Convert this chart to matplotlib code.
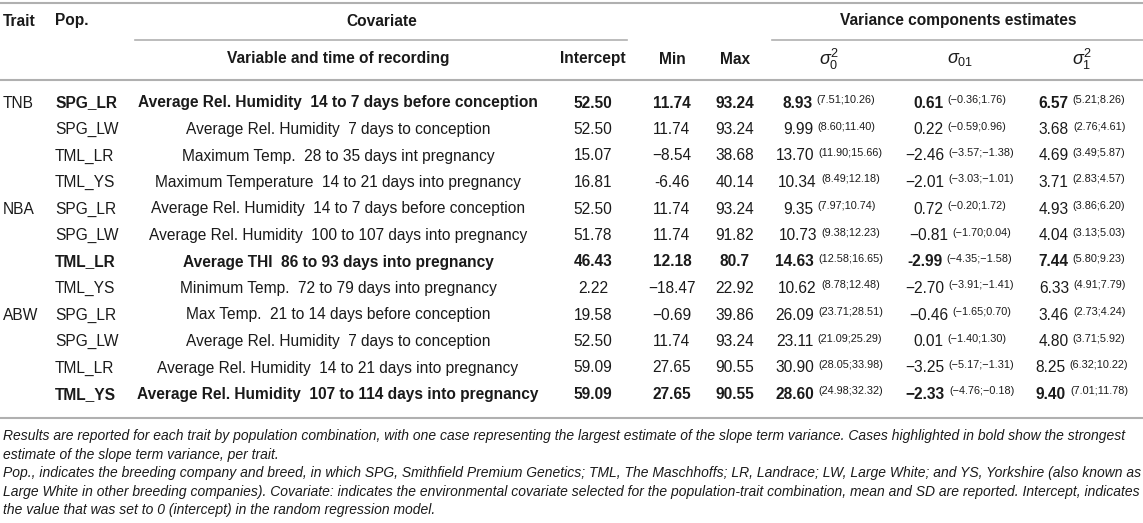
import matplotlib.pyplot as plt

plt.rcParams["font.family"] = ["Liberation Sans", "DejaVu Sans"]
plt.rcParams["mathtext.fontset"] = "custom"
plt.rcParams["mathtext.rm"] = "Liberation Sans"
plt.rcParams["mathtext.it"] = "Liberation Sans:italic"
plt.rcParams["mathtext.bf"] = "Liberation Sans:bold"

traits = ["TNB", "", "", "", "NBA", "", "", "", "ABW", "", "", ""]
pops = ["SPG_LR", "SPG_LW", "TML_LR", "TML_YS", "SPG_LR", "SPG_LW", "TML_LR", "TML_YS",
        "SPG_LR", "SPG_LW", "TML_LR", "TML_YS"]
covariates = [
    "Average Rel. Humidity  14 to 7 days before conception",
    "Average Rel. Humidity  7 days to conception",
    "Maximum Temp.  28 to 35 days int pregnancy",
    "Maximum Temperature  14 to 21 days into pregnancy",
    "Average Rel. Humidity  14 to 7 days before conception",
    "Average Rel. Humidity  100 to 107 days into pregnancy",
    "Average THI  86 to 93 days into pregnancy",
    "Minimum Temp.  72 to 79 days into pregnancy",
    "Max Temp.  21 to 14 days before conception",
    "Average Rel. Humidity  7 days to conception",
    "Average Rel. Humidity  14 to 21 days into pregnancy",
    "Average Rel. Humidity  107 to 114 days into pregnancy",
]
intercepts = ["52.50", "52.50", "15.07", "16.81", "52.50", "51.78", "46.43", "2.22",
              "19.58", "52.50", "59.09", "59.09"]
mins = ["11.74", "11.74", "\u22128.54", "-6.46", "11.74", "11.74", "12.18", "\u221218.47",
        "\u22120.69", "11.74", "27.65", "27.65"]
maxs = ["93.24", "93.24", "38.68", "40.14", "93.24", "91.82", "80.7", "22.92",
        "39.86", "93.24", "90.55", "90.55"]
sig0 = ["8.93", "9.99", "13.70", "10.34", "9.35", "10.73", "14.63", "10.62",
        "26.09", "23.11", "30.90", "28.60"]
sig0_ci = ["7.51;10.26", "8.60;11.40", "11.90;15.66", "8.49;12.18", "7.97;10.74", "9.38;12.23",
           "12.58;16.65", "8.78;12.48", "23.71;28.51", "21.09;25.29", "28.05;33.98", "24.98;32.32"]
sig01 = ["0.61", "0.22", "\u22122.46", "\u22122.01", "0.72", "\u22120.81", "-2.99", "\u22122.70",
         "\u22120.46", "0.01", "\u22123.25", "\u22122.33"]
sig01_ci = ["-0.36;1.76", "-0.59;0.96", "-3.57;-1.38", "-3.03;-1.01", "-0.20;1.72", "-1.70;0.04",
            "-4.35;-1.58", "-3.91;-1.41", "-1.65;0.70", "-1.40;1.30", "-5.17;-1.31", "-4.76;-0.18"]
sig1 = ["6.57", "3.68", "4.69", "3.71", "4.93", "4.04", "7.44", "6.33",
        "3.46", "4.80", "8.25", "9.40"]
sig1_ci = ["5.21;8.26", "2.76;4.61", "3.49;5.87", "2.83;4.57", "3.86;6.20", "3.13;5.03",
           "5.80;9.23", "4.91;7.79", "2.73;4.24", "3.71;5.92", "6.32;10.22", "7.01;11.78"]
bold_rows = [0, 6, 11]

notes = [
    "Results are reported for each trait by population combination, with one case representing the largest estimate of the slope term variance. Cases highlighted in bold show the strongest",
    "estimate of the slope term variance, per trait.",
    "Pop., indicates the breeding company and breed, in which SPG, Smithfield Premium Genetics; TML, The Maschhoffs; LR, Landrace; LW, Large White; and YS, Yorkshire (also known as",
    "Large White in other breeding companies). Covariate: indicates the environmental covariate selected for the population-trait combination, mean and SD are reported. Intercept, indicates",
    "the value that was set to 0 (intercept) in the random regression model.",
]

W, H = 1143, 523
fig = plt.figure(figsize=(W / 100, H / 100), dpi=100)
ax = fig.add_axes([0, 0, 1, 1])
ax.set_xlim(0, W)
ax.set_ylim(H, 0)
ax.axis("off")
renderer = fig.canvas.get_renderer()

fs = 11.2
fs_ci = 7.8
line_col = "#b0b0b0"
txt_col = "#1a1a1a"

# column positions
x_trait, x_pop, x_cov = 3, 55, 338
x_int, x_min, x_max = 593, 672, 735
x_s0, x_s01, x_s1 = 829, 960, 1082

# rules
ax.plot([0, W], [3, 3], color=line_col, lw=1.5)
ax.plot([135, 627], [40, 40], color=line_col, lw=1.2)
ax.plot([772, W], [40, 40], color=line_col, lw=1.2)
ax.plot([0, W], [80, 80], color=line_col, lw=1.5)
ax.plot([0, W], [418, 418], color=line_col, lw=1.5)

hk = dict(fontsize=fs, fontweight="bold", color=txt_col, va="baseline")
ax.text(x_trait, 25.5, "Trait", ha="left", **hk)
ax.text(x_pop, 25.5, "Pop.", ha="left", **hk)
ax.text(382, 25.5, "Covariate", ha="center", **hk)
ax.text(958, 25.5, "Variance components estimates", ha="center", **hk)
ax.text(x_cov, 63.5, "Variable and time of recording", ha="center", **hk)
ax.text(x_int, 63.5, "Intercept", ha="center", **hk)
ax.text(x_min, 63.5, "Min", ha="center", **hk)
ax.text(x_max, 63.5, "Max", ha="center", **hk)
sk = dict(fontsize=13, color=txt_col, va="center", ha="center")
ax.text(x_s0, 59, r"$\sigma_0^2$", **sk)
ax.text(x_s01, 59, r"$\sigma_{01}$", **sk)
ax.text(x_s1, 59, r"$\sigma_1^2$", **sk)


def value_ci(cx, yb, val, ci, weight):
    # value with a small raised interval, centred as one group
    t1 = ax.text(0, yb, val, ha="left", va="baseline", fontsize=fs, fontweight=weight, color=txt_col)
    t2 = ax.text(0, yb - 4.5, "(" + ci.replace("-", "\u2212") + ")", ha="left", va="baseline",
                 fontsize=fs_ci, color=txt_col)
    w1 = t1.get_window_extent(renderer).width
    w2 = t2.get_window_extent(renderer).width
    gap = 4
    x0 = cx - (w1 + gap + w2) / 2
    t1.set_x(x0)
    t2.set_x(x0 + w1 + gap)


y0, dy = 107.5, 26.5
for i in range(len(pops)):
    yb = y0 + i * dy
    w = "bold" if i in bold_rows else "normal"
    k = dict(fontsize=fs, fontweight=w, color=txt_col, va="baseline")
    ax.text(x_trait, yb, traits[i], ha="left", fontsize=fs, color=txt_col, va="baseline")
    ax.text(x_pop, yb, pops[i], ha="left", **k)
    ax.text(x_cov, yb, covariates[i], ha="center", **k)
    ax.text(x_int, yb, intercepts[i], ha="center", **k)
    ax.text(x_min, yb, mins[i], ha="center", **k)
    ax.text(x_max, yb, maxs[i], ha="center", **k)
    value_ci(x_s0, yb, sig0[i], sig0_ci[i], w)
    value_ci(x_s01, yb, sig01[i], sig01_ci[i], w)
    value_ci(x_s1, yb, sig1[i], sig1_ci[i], w)

for j, line in enumerate(notes):
    ax.text(3, 436 + j * 18.6, line, ha="left", va="center", fontsize=9.98,
            style="italic", color=txt_col)

fig.savefig("out.png", dpi=100)
